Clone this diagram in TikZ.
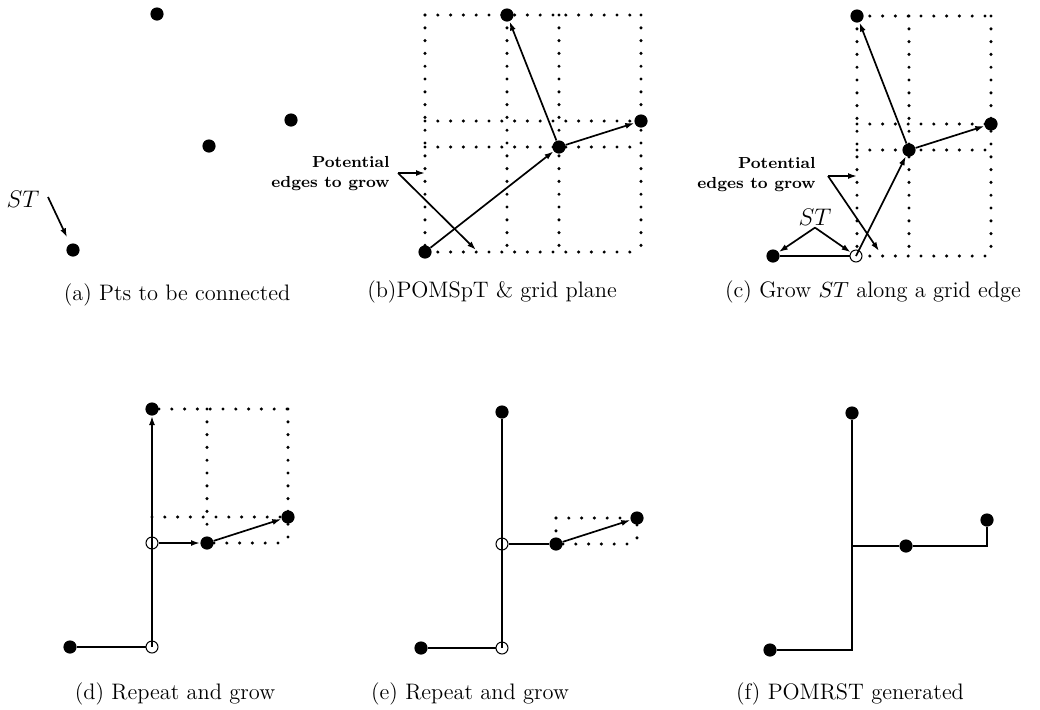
\documentclass[tikz,border=0pt]{standalone}
\usetikzlibrary{arrows.meta,backgrounds,calc}
\begin{document}
\begin{tikzpicture}[
  x=0.5pt, y=-0.5pt,
  dot/.style={circle, fill=black, inner sep=0pt, minimum size=6.6pt},
  hollow/.style={circle, draw=black, fill=white, line width=0.5pt, inner sep=0pt, minimum size=6pt},
  gridline/.style={line width=1.7pt, line cap=round, dash pattern=on 0pt off 6.4pt},
  edge/.style={line width=0.85pt},
  arr/.style={edge, -{Latex[length=4.5pt,width=3pt]}},
  captext/.style={font=\fontsize{11.2}{13}\selectfont, anchor=base, inner sep=0pt},
  note/.style={font=\fontsize{8}{10}\selectfont\bfseries, align=right, inner sep=0pt, anchor=east},
  stlabel/.style={font=\fontsize{13}{15}\selectfont, inner sep=1pt}
]
\useasboundingbox (0,0) rectangle (1040,709);

% ---------- (a) points to be connected ----------
\node[dot] (a1) at (73,250) {};
\node[dot] (a2) at (209,146) {};
\node[dot] (a3) at (291,120) {};
\node[dot] (a4) at (157,14) {};
\node[stlabel] (aST) at (23,199) {$ST$};
\coordinate (aSTtail) at (48,197);
\draw[arr, shorten >=3.5pt] (aSTtail) -- (a1);
\node[captext] (acap) at (177,300) {(a) Pts to be connected};

% ---------- (b) POMSpT and grid plane ----------
\node[dot] (b1) at (425,252) {};
\node[dot] (b2) at (559,147) {};
\node[dot] (b3) at (641,121) {};
\node[dot] (b4) at (507,15) {};
\begin{scope}[on background layer]
  \foreach \p in {b1,b4,b2,b3} \draw[gridline] (\p |- b4) -- (\p |- b1);
  \foreach \p in {b4,b3,b2,b1} \draw[gridline] (b1 |- \p) -- (b3 |- \p);
\end{scope}
\draw[arr] (b1) -- (b2);
\draw[arr] (b2) -- (b4);
\draw[arr] (b2) -- (b3);
\node[note] (bnote) at (390,174) {Potential\\edges to grow};
\coordinate (btail) at (398,173);
\coordinate (btip) at (476,250);
\draw[arr] (btail) -- (btail -| b1);
\draw[arr] (btail) -- (btip);
\node[captext] (bcap) at (492,297) {(b)POMSpT \& grid plane};

% ---------- (c) grow ST along a grid edge ----------
\node[dot] (c1) at (773,256) {};
\node[hollow] (copen) at (856,256) {};
\node[dot] (c2) at (909,150) {};
\node[dot] (c3) at (991,124) {};
\node[dot] (c4) at (857,16) {};
\begin{scope}[on background layer]
  \foreach \p in {c4,c2,c3} \draw[gridline] (\p |- c4) -- (\p |- copen);
  \foreach \p in {c4,c3,c2,copen} \draw[gridline] (c4 |- \p) -- (c3 |- \p);
\end{scope}
\draw[edge] (c1) -- (copen);
\draw[arr] (copen.center) -- (c2);
\draw[arr] (c2) -- (c4);
\draw[arr] (c2) -- (c3);
\node[stlabel] (cST) at (815,217) {$ST$};
\draw[arr] (cST.south) -- (c1);
\draw[arr] (cST.south) -- (copen);
\node[note] (cnote) at (816,175) {Potential\\edges to grow};
\coordinate (ctail) at (828,176);
\coordinate (ctip) at (879,251);
\draw[arr] (ctail) -- (ctail -| c4);
\draw[arr] (ctail) -- (ctip);
\node[captext] (ccap) at (873,297) {(c) Grow $ST$ along a grid edge};

% ---------- (d) repeat and grow ----------
\node[dot] (d1) at (70,647) {};
\node[hollow] (db) at (152,647) {};
\node[hollow] (dm) at (152,543) {};
\node[dot] (d2) at (207,543) {};
\node[dot] (d3) at (288,517) {};
\node[dot] (d4) at (152,409) {};
\begin{scope}[on background layer]
  \draw[gridline] (d4) -- (d3 |- d4);
  \draw[gridline] (d4 |- d3) -- (d3);
  \draw[gridline] (d2) -- (d3 |- d2);
  \draw[gridline] (d2 |- d4) -- (d2);
  \draw[gridline] (d3 |- d4) -- (d3 |- d2);
\end{scope}
\draw[edge] (d1) -- (db);
\draw[edge] (db.center) -- (dm.center);
\draw[arr] (dm.center) -- (d4);
\draw[arr] (dm) -- (d2);
\draw[arr] (d2) -- (d3);
\node[captext] (dcap) at (175,699) {(d) Repeat and grow};

% ---------- (e) repeat and grow ----------
\node[dot] (e1) at (421,648) {};
\node[hollow] (eb) at (502,648) {};
\node[hollow] (em) at (502,544) {};
\node[dot] (e2) at (556,544) {};
\node[dot] (e3) at (637,518) {};
\node[dot] (e4) at (502,412) {};
\begin{scope}[on background layer]
  \draw[gridline] (e2 |- e3) -- (e3);
  \draw[gridline] (e2) -- (e3 |- e2);
  \draw[gridline] (e2 |- e3) -- (e2);
  \draw[gridline] (e3) -- (e3 |- e2);
\end{scope}
\draw[edge] (e1) -- (eb);
\draw[edge] (eb.center) -- (em.center);
\draw[edge] (em.center) -- (e4);
\draw[edge] (em) -- (e2);
\draw[arr] (e2) -- (e3);
\node[captext] (ecap) at (470,699) {(e) Repeat and grow};

% ---------- (f) resulting rectilinear tree ----------
\node[dot] (f1) at (770,650) {};
\node[dot] (f2) at (906,546) {};
\node[dot] (f3) at (987,520) {};
\node[dot] (f4) at (852,413) {};
\draw[edge] (f1) -- (f4 |- f1) -- (f4);
\draw[edge] (f4 |- f2) -- (f2);
\draw[edge] (f2) -- (f3 |- f2) -- (f3);
\node[captext] (fcap) at (850,699) {(f) POMRST generated};
\end{tikzpicture}
\end{document}
